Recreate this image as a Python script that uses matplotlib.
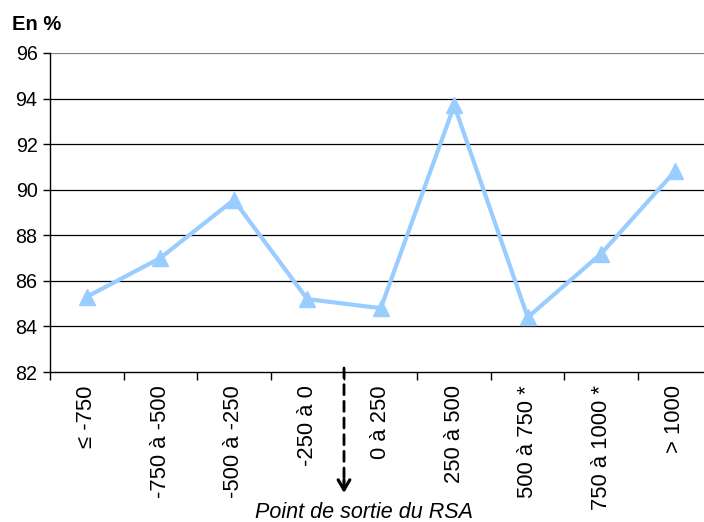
import matplotlib
matplotlib.use("Agg")
import matplotlib.pyplot as plt
import numpy as np

categories = ["≤ -750", "-750 à -500", "-500 à -250", "-250 à 0", "0 à 250",
              "250 à 500", "500 à 750 *", "750 à 1000 *", "> 1000"]
values = [85.3, 87.0, 89.55, 85.2, 84.8, 93.7, 84.4, 87.2, 90.8]
y_ticks = [82, 84, 86, 88, 90, 92, 94, 96]
y_label = "En %"
x_title = "Point de sortie du RSA"
exit_position = 3.5

plt.rcParams['font.family'] = ['Liberation Sans', 'DejaVu Sans']

W, H = 704, 522
fig = plt.figure(figsize=(W / 100, H / 100), dpi=100)
ax = fig.add_axes([50 / W, 150 / H, 661.5 / W, 319 / H])

x = np.arange(len(categories))
ax.plot(x, values, color="#99CCFF", lw=3, marker="^", markersize=12,
        markeredgecolor="#99CCFF", markerfacecolor="#99CCFF", zorder=3, clip_on=False)

ax.set_xlim(-0.5, len(categories) - 0.5)
ax.set_ylim(82, 96)
ax.set_yticks(y_ticks)
ax.set_yticklabels([str(v) for v in y_ticks], fontsize=14.2)
for v in y_ticks[1:-1]:
    ax.axhline(v, color="black", lw=0.9, zorder=1)
ax.axhline(96, color="#808080", lw=1.6, zorder=1)

ax.set_xticks(np.arange(-0.5, len(categories), 1.0))
ax.set_xticklabels([])
ax.set_xticks(x, minor=True)
ax.set_xticklabels(categories, minor=True, rotation=90, fontsize=15.8, va="top", ha="center")
ax.tick_params(axis="x", which="major", length=6, width=1, direction="out", color="black")
ax.tick_params(axis="x", which="minor", length=0, pad=9.5)
ax.tick_params(axis="y", length=5, width=1, direction="out", pad=4)

for s in ["top", "right"]:
    ax.spines[s].set_visible(False)
ax.spines["left"].set_color("black")
ax.spines["bottom"].set_color("black")
ax.spines["left"].set_linewidth(1)
ax.spines["bottom"].set_linewidth(1)

fig.text(12 / W, 1 - 25 / H, y_label, fontsize=14.5, fontweight="bold", ha="left", va="center")

# dashed shaft
ax.annotate("", xy=(exit_position, H - 488), xycoords=("data", "figure pixels"),
            xytext=(exit_position, H - 368), textcoords=("data", "figure pixels"),
            annotation_clip=False,
            arrowprops=dict(arrowstyle="-", color="black", lw=2.0,
                            linestyle=(0, (3.6, 2.4)), shrinkA=0, shrinkB=0))
# solid head
ax.annotate("", xy=(exit_position, H - 493), xycoords=("data", "figure pixels"),
            xytext=(exit_position, H - 480), textcoords=("data", "figure pixels"),
            annotation_clip=False,
            arrowprops=dict(arrowstyle="->,head_length=0.6,head_width=0.35", color="black",
                            lw=2.3, shrinkA=0, shrinkB=0, mutation_scale=12))

fig.text(364 / W, 1 - 512 / H, x_title, fontsize=15.5, style="italic", ha="center", va="center")

fig.savefig("out.png", dpi=100)
